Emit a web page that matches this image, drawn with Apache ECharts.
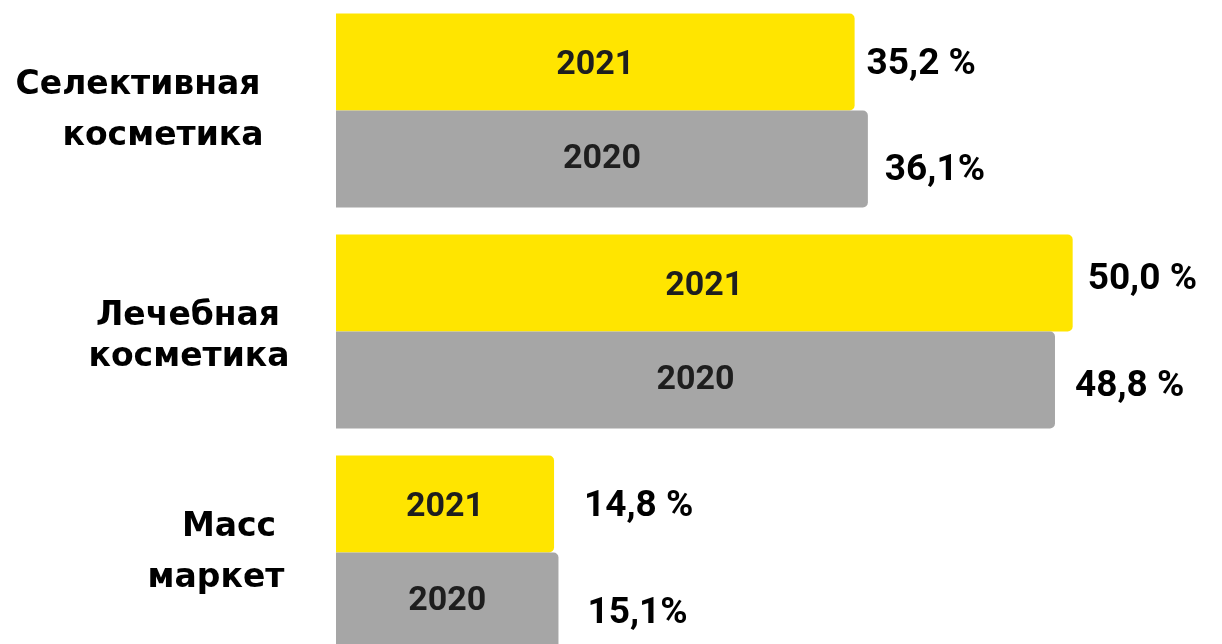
<!DOCTYPE html>
<html><head><meta charset="utf-8">
<script src="https://cdn.jsdelivr.net/npm/echarts@6/dist/echarts.min.js"></script>
<style>html,body{margin:0;padding:0;background:#fff;overflow:hidden}#c{width:1222px;height:663px}</style>
</head><body><div id="c"></div>
<script>
// ---- data ----
const categories = ['Селективная\nкосметика', 'Лечебная\nкосметика', 'Масс\nмаркет'];
const seriesNames = ['2021', '2020'];
const values2021 = [35.2, 50.0, 14.8];
const values2020 = [36.1, 48.8, 15.1];
const valueLabels2021 = ['35,2 %', '50,0 %', '14,8 %'];
const valueLabels2020 = ['36,1%', '48,8 %', '15,1%'];

// ---- layout tweaks (label nudges, not data) ----
const nudge2021 = [[12, 3], [15, -3], [30, 3]];
const nudge2020 = [[17, 12], [20, 7], [29, 13]];
const catPad = [[196, 146, 0], [96, 94, 20], [14, 40, 0]];

const catFont = { fontFamily: 'DejaVu Sans', fontWeight: 'bold', fontSize: 33, color: '#000', lineHeight: 51 };
const rich = {};
catPad.forEach((p, i) => {
  rich['a' + i] = Object.assign({}, catFont, { padding: [p[2], p[0], 0, 0] });
  rich['b' + i] = Object.assign({}, catFont, { padding: [0, p[1], 0, 0] });
});

const innerLabel = (dy) => ({
  show: true, position: 'inside', formatter: '{a}', offset: [0, dy],
  fontFamily: 'Roboto', fontWeight: 'bold', fontSize: 34, color: '#1e1e1e'
});
const valueLabel = {
  show: true, position: 'right', distance: 0,
  fontFamily: 'Roboto', fontWeight: 'bold', fontSize: 37, color: '#000'
};

const mkOverlay = (vals, texts, nudges) => vals.map((v, i) => ({
  value: v,
  label: Object.assign({}, valueLabel, { formatter: texts[i], offset: nudges[i] })
}));

const barW = 97;
const chart = echarts.init(document.getElementById('c'), null, { renderer: 'canvas' });
chart.setOption({
  animation: false,
  backgroundColor: '#fff',
  grid: { left: 336, right: 2, top: 0, bottom: 0, containLabel: false },
  xAxis: { type: 'value', min: 0, max: 60, show: false },
  yAxis: [
    {
      type: 'category', data: categories, inverse: true,
      axisLine: { show: false }, axisTick: { show: false }, splitLine: { show: false },
      axisLabel: {
        margin: 100, align: 'center',
        formatter: (v, i) => {
          const parts = v.split('\n');
          return '{a' + i + '|' + parts[0] + '}\n{b' + i + '|' + parts[1] + '}';
        },
        rich: rich
      }
    },
    { type: 'category', data: categories, inverse: true, show: false }
  ],
  series: [
    {
      name: seriesNames[0], type: 'bar', data: values2021, barWidth: barW, barGap: '0%',
      itemStyle: { color: '#FFE500', borderRadius: [0, 5, 5, 0] },
      label: innerLabel(3)
    },
    {
      name: seriesNames[1], type: 'bar', data: values2020, barWidth: barW, barGap: '0%',
      itemStyle: { color: '#A6A6A6', borderRadius: [0, 5, 5, 0] },
      label: innerLabel(0)
    },
    {
      name: seriesNames[0] + ' value', type: 'bar', yAxisIndex: 1, barWidth: barW, barGap: '0%', silent: true,
      itemStyle: { color: 'rgba(0,0,0,0)' },
      data: mkOverlay(values2021, valueLabels2021, nudge2021)
    },
    {
      name: seriesNames[1] + ' value', type: 'bar', yAxisIndex: 1, barWidth: barW, barGap: '0%', silent: true,
      itemStyle: { color: 'rgba(0,0,0,0)' },
      data: mkOverlay(values2020, valueLabels2020, nudge2020)
    }
  ]
});
</script>
</body></html>
